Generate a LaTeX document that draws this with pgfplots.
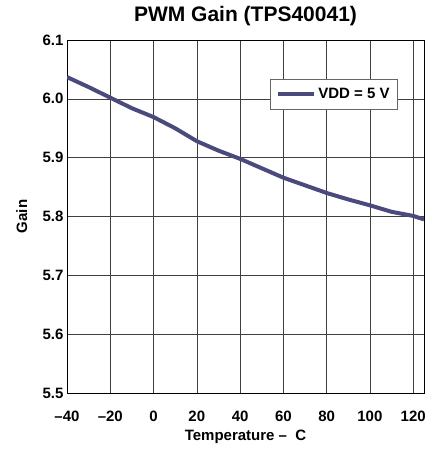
\documentclass[border=0pt]{standalone}
\usepackage{pgfplots}
\pgfplotsset{compat=1.18}
\usepackage{fontspec}
\setmainfont{Liberation Sans}
\definecolor{gainline}{HTML}{4A4A7C}
\newcommand{\lblfont}{\fontsize{15bp}{17bp}\selectfont\bfseries}
\begin{document}
\begin{tikzpicture}
\useasboundingbox (-67bp,-56bp) rectangle (358bp,393bp);
\begin{axis}[
    scale only axis,
    width=357bp, height=353bp,
    xmin=-40, xmax=125,
    ymin=5.5, ymax=6.1,
    xtick={-40,-20,0,20,40,60,80,100,120},
    xticklabels={–40,–20,0,20,40,60,80,100,120},
    ytick={5.5,5.6,5.7,5.8,5.9,6.0,6.1},
    /pgf/number format/assume math mode=true,
    yticklabel style={/pgf/number format/fixed, /pgf/number format/fixed zerofill,
        /pgf/number format/precision=1},
    xmajorgrids=true, ymajorgrids=true,
    major grid style={black!75, line width=0.6pt},
    major tick length=0pt,
    axis line style={black, line width=1pt},
    ticklabel style={font=\lblfont},
    xticklabel style={yshift=-15bp},
    title={PWM Gain (TPS40041)},
    title style={font=\fontsize{21bp}{23bp}\selectfont\bfseries,
        at={(axis description cs:0.5,1)}, anchor=base, yshift=13bp},
    xlabel={Temperature –\ \ C},
    ylabel={Gain},
    xlabel style={font=\lblfont, at={(axis description cs:0.5,0)},
        anchor=base, yshift=-47bp},
    ylabel style={font=\lblfont, at={(axis description cs:-0.112,0.5)},
        anchor=base, rotate=0},
    legend style={at={(0.927,0.89)}, anchor=north east, draw=black!60,
        line width=0.6pt, font=\lblfont,
        inner xsep=6bp, inner ysep=7bp},
    legend image code/.code={\draw[#1, line width=4bp] (0bp,0bp) -- (36bp,0bp);},
]
\addplot[color=gainline, line width=4bp, line join=round]
    coordinates {
    (-40,6.037)(-30,6.020)(-20,6.002)(-10,5.984)(0,5.969)(10,5.950)
    (20,5.928)(30,5.912)(40,5.898)(50,5.882)(60,5.866)(70,5.853)
    (80,5.840)(90,5.829)(100,5.819)(110,5.808)(120,5.801)(125,5.795)
    };
\legend{VDD = 5 V}
\end{axis}
\end{tikzpicture}
\end{document}
